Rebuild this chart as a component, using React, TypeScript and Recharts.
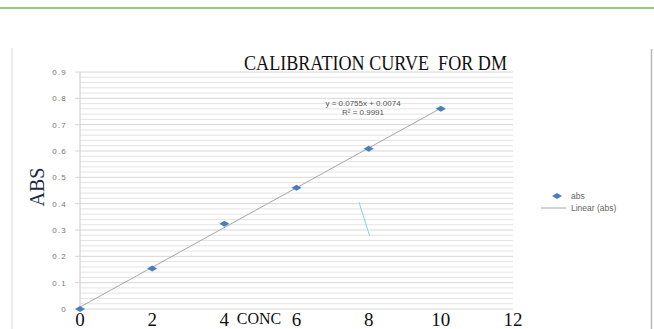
import React from "react";
import { ComposedChart, Scatter, XAxis, YAxis, CartesianGrid, ReferenceLine } from "recharts";

const concValues = [0, 2, 4, 6, 8, 10];
const absValues = [0, 0.154, 0.324, 0.46, 0.609, 0.76];
const trendX = [0, 10];
const trendY = [0.0074, 0.7624];
const xTicks = [0, 2, 4, 6, 8, 10, 12];
const yTicks = [0, 0.1, 0.2, 0.3, 0.4, 0.5, 0.6, 0.7, 0.8, 0.9];
const yMinorTicks = [
  0.02, 0.04, 0.06, 0.08, 0.12, 0.14, 0.16, 0.18, 0.22, 0.24, 0.26, 0.28, 0.32, 0.34, 0.36, 0.38,
  0.42, 0.44, 0.46, 0.48, 0.52, 0.54, 0.56, 0.58, 0.62, 0.64, 0.66, 0.68, 0.72, 0.74, 0.76, 0.78,
  0.82, 0.84, 0.86, 0.88,
];

const points = concValues.map((x, i) => ({ x, y: absValues[i] }));
const trend = trendX.map((x, i) => ({ x, y: trendY[i] }));

const W = 654;
const H = 329;
const serif = "'Liberation Serif', 'Times New Roman', serif";
const sans = "'Liberation Sans', Arial, sans-serif";

const Diamond = (props: any) => {
  const { cx, cy } = props;
  if (cx == null || cy == null) return null;
  return (
    <polygon
      points={`${cx - 5},${cy} ${cx},${cy - 3} ${cx + 5},${cy} ${cx},${cy + 3}`}
      fill="#4a7ebb"
    />
  );
};

const YTick = (props: any) => {
  const { y, payload } = props;
  return (
    <text x={67} y={y + 3} textAnchor="end" fontSize={8} fill="#777" fontFamily={sans} letterSpacing={1.2}>
      {payload.value === 0 ? "0" : payload.value.toFixed(1)}
    </text>
  );
};

const XTick = (props: any) => {
  const { x, payload } = props;
  return (
    <text x={x} y={326} textAnchor="middle" fontSize={19} fill="#111" fontFamily={serif}>
      {payload.value}
    </text>
  );
};

export default function App() {
  return (
    <div style={{ position: "fixed", left: 0, top: 0, width: W, height: H, background: "#fff" }}>
      <ComposedChart
        width={W}
        height={H}
        margin={{ top: 72, right: 141, bottom: 0, left: 20 }}
        data={points}
      >
        <CartesianGrid
          vertical={false}
          horizontalValues={yMinorTicks}
          stroke="#e4e4e4"
          strokeWidth={1}
        />
        <CartesianGrid vertical={false} horizontalValues={yTicks} stroke="#d6d6d6" strokeWidth={1} />
        <XAxis
          type="number"
          dataKey="x"
          domain={[0, 12]}
          ticks={xTicks}
          height={20}
          axisLine={false}
          tickLine={false}
          tick={<XTick />}
          interval={0}
        />
        <YAxis
          type="number"
          dataKey="y"
          domain={[0, 0.9]}
          ticks={yTicks}
          width={60}
          axisLine={{ stroke: "#c8c8c8" }}
          tickLine={{ stroke: "#d6d6d6" }}
          tickSize={5}
          tick={<YTick />}
          interval={0}
        />
        <ReferenceLine
          segment={[
            { x: 7.73, y: 0.406 },
            { x: 8.03, y: 0.277 },
          ]}
          stroke="#86d2e6"
          strokeWidth={1}
        />
        <Scatter
          data={trend}
          line={{ stroke: "#a6a6a6", strokeWidth: 1 }}
          shape={() => null}
          isAnimationActive={false}
        />
        <Scatter data={points} shape={<Diamond />} isAnimationActive={false} />
      </ComposedChart>
      <svg
        width={W}
        height={H}
        style={{ position: "absolute", left: 0, top: 0, pointerEvents: "none" }}
      >
        <line x1={0} y1={8} x2={W} y2={8} stroke="#72bb4c" strokeWidth={1.5} />
        <line x1={12} y1={48} x2={12} y2={H} stroke="#d8d8d8" strokeWidth={1} />
        <line x1={651.5} y1={49} x2={651.5} y2={H} stroke="#b8b8b8" strokeWidth={1.5} />
        <text
          x={244}
          y={70}
          fontSize={21}
          fontFamily={serif}
          fill="#111"
          textLength={263}
          lengthAdjust="spacingAndGlyphs"
          style={{ whiteSpace: "pre" }}
        >
          CALIBRATION CURVE  FOR DM
        </text>
        <text x={363} y={106} textAnchor="middle" fontSize={8} fontFamily={sans} fill="#555">
          y = 0.0755x + 0.0074
        </text>
        <text x={363} y={115} textAnchor="middle" fontSize={8} fontFamily={sans} fill="#555">
          R² = 0.9991
        </text>
        <text
          x={0}
          y={0}
          transform="translate(44,187) rotate(-90)"
          textAnchor="middle"
          fontSize={20}
          fontFamily={serif}
          fill="#1c2a48"
        >
          ABS
        </text>
        <text x={259} y={324} textAnchor="middle" fontSize={16} fontFamily={serif} fill="#111">
          CONC
        </text>
        <polygon points="552,196 557,193 562,196 557,199" fill="#4a7ebb" />
        <text x={571} y={199} fontSize={8.5} fontFamily={sans} fill="#666">
          abs
        </text>
        <line x1={541} y1={208} x2={566} y2={208} stroke="#a6a6a6" strokeWidth={1} />
        <text x={571} y={211} fontSize={8.5} fontFamily={sans} fill="#666">
          Linear (abs)
        </text>
      </svg>
    </div>
  );
}
